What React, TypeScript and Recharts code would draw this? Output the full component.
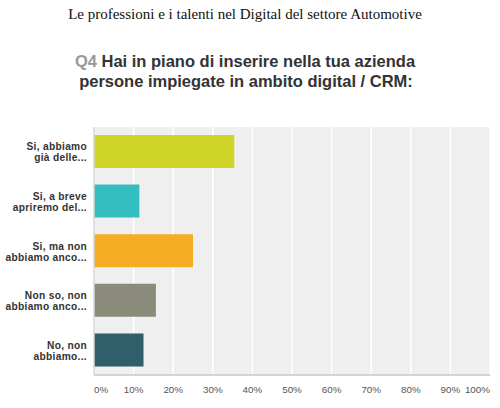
import React from 'react';
import { BarChart, Bar, XAxis, YAxis, CartesianGrid, Cell } from 'recharts';

const answers = [
  'Si, abbiamo\ngià delle...',
  'Si, a breve\napriremo del...',
  'Si, ma non\nabbiamo anco...',
  'Non so, non\nabbiamo anco...',
  'No, non\nabbiamo...',
];
const percentages = [35.42, 11.46, 25, 15.63, 12.5];
const barColors = ['#d0d427', '#35bec1', '#f5ae23', '#8b8b7b', '#2e5f6b'];
const xTicks = [0, 10, 20, 30, 40, 50, 60, 70, 80, 90, 100];

const font = '"Liberation Sans", Arial, sans-serif';

const data = answers.map((answer, i) => ({
  answer,
  value: percentages[i],
  color: barColors[i],
}));

function AnswerTick({ x, y, payload }: any) {
  const lines = String(payload.value).split('\n');
  return (
    <text x={x} y={y} textAnchor="end" fontFamily={font} fontSize={10.2} fontWeight="bold" letterSpacing={0.3} fill="#333">
      {lines.map((line, i) => (
        <tspan key={i} x={x} dy={i === 0 ? -1.5 : 11}>
          {line}
        </tspan>
      ))}
    </text>
  );
}

function PercentTick({ x, y, payload }: any) {
  const anchor = payload.value === 0 ? 'start' : payload.value === 100 ? 'end' : 'middle';
  return (
    <text x={x} y={y} dy={10} textAnchor={anchor} fontFamily={font} fontSize={9.8} fill="#555">
      {payload.value}%
    </text>
  );
}

export default function App() {
  return (
    <div style={{ position: 'absolute', left: 0, top: 0, width: 500, height: 408, background: '#fff' }}>
      <svg width={500} height={120} style={{ position: 'absolute', left: 0, top: 0 }}>
        <text x={245} y={19} textAnchor="middle" fontFamily='"Liberation Serif", serif' fontSize={15} fill="#111">
          Le professioni e i talenti nel Digital del settore Automotive
        </text>
        <text x={245} y={67} textAnchor="middle" fontFamily={font} fontSize={16.5} fontWeight="bold" fill="#333">
          <tspan fill="#999">Q4</tspan> Hai in piano di inserire nella tua azienda
        </text>
        <text x={246} y={87} textAnchor="middle" fontFamily={font} fontSize={16.5} fontWeight="bold" fill="#333">
          persone impiegate in ambito digital / CRM:
        </text>
      </svg>
      <BarChart
        width={500}
        height={408}
        data={data}
        layout="vertical"
        margin={{ top: 127, right: 10, left: 0, bottom: 0 }}
        style={{ position: 'absolute', left: 0, top: 0 }}
      >
        <CartesianGrid horizontal={false} stroke="#ffffff" strokeWidth={1.5} fill="#efefef" fillOpacity={1} />
        <XAxis
          type="number"
          domain={[0, 100]}
          ticks={xTicks}
          height={33}
          tickLine={false}
          axisLine={{ stroke: '#d3d3d3', strokeWidth: 2 }}
          tick={<PercentTick />}
          interval={0}
        />
        <YAxis
          type="category"
          dataKey="answer"
          width={94}
          tickLine={false}
          axisLine={{ stroke: '#d6d6d6', strokeWidth: 1.5 }}
          tick={<AnswerTick />}
          tickMargin={1}
          interval={0}
        />
        <Bar dataKey="value" barSize={33} isAnimationActive={false}>
          {data.map((entry, index) => (
            <Cell key={`cell-${index}`} fill={entry.color} />
          ))}
        </Bar>
      </BarChart>
    </div>
  );
}
